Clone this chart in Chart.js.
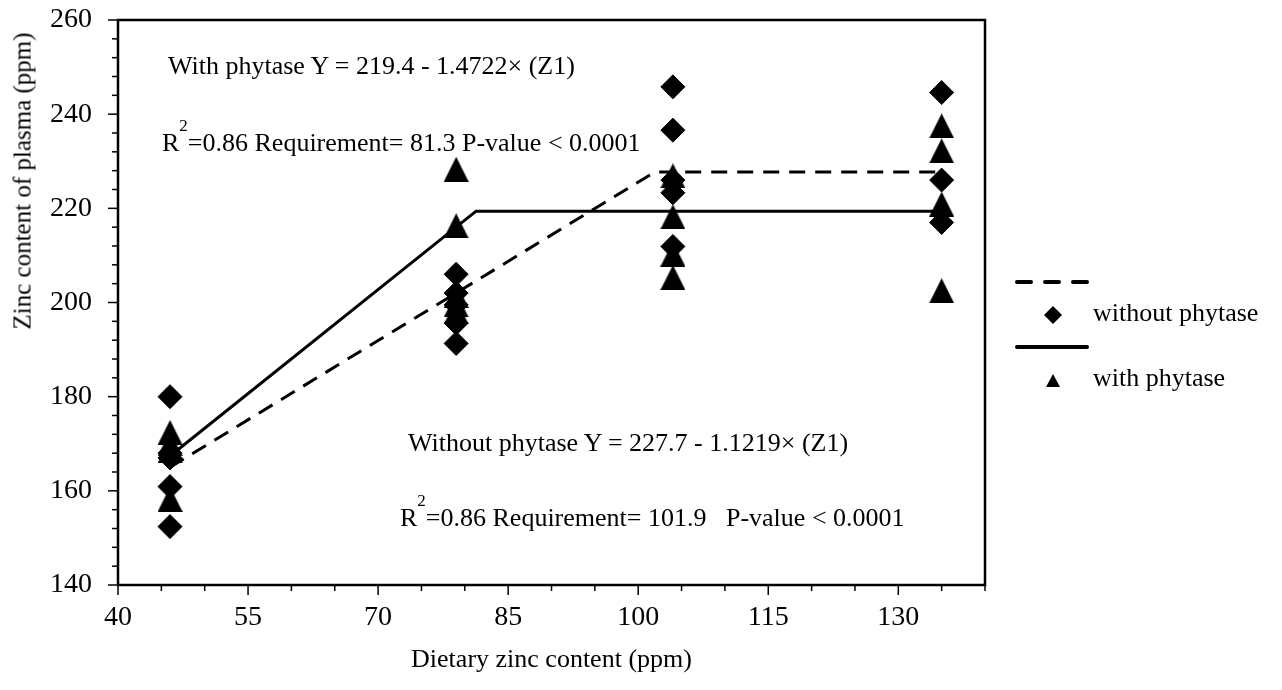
<!DOCTYPE html>
<html>
<head>
<meta charset="utf-8">
<script src="https://cdn.jsdelivr.net/npm/chart.js@4.4.1/dist/chart.umd.min.js"></script>
<style>
    html, body { margin: 0; padding: 0; background: #fff; }
    #wrap { position: relative; width: 1282px; height: 690px; font-family: "Liberation Serif", "Times New Roman", serif; color: #000; }
    #graph { position: absolute; left: 0; top: 0; }
    .note { position: absolute; font-size: 26px; line-height: 26px; white-space: pre; }
    .sup { font-size: 17px; position: relative; top: -20px; }
    #ytitle { position: absolute; left: 22px; top: 181px; font-size: 25px; line-height: 25px; white-space: nowrap;
              transform: translate(-50%, -50%) rotate(-90deg); }
    .leg { position: absolute; }
</style>
</head>
<body>
<div id="wrap">
    <canvas id="graph" width="1282" height="690"></canvas>

    <div id="ytitle">Zinc content of plasma (ppm)</div>

    <div class="note" style="left:168px; top:53px;">With phytase Y = 219.4 - 1.4722× (Z1)</div>
    <div class="note" style="left:162px; top:130px;">R<span class="sup">2</span>=0.86 Requirement= 81.3 P-value &lt; 0.0001</div>
    <div class="note" style="left:408px; top:430px;">Without phytase Y = 227.7 - 1.1219× (Z1)</div>
    <div class="note" style="left:400px; top:505px;">R<span class="sup">2</span>=0.86 Requirement= 101.9   P-value &lt; 0.0001</div>

    <!-- légende -->
    <svg class="leg" style="left:1015px; top:275px;" width="76" height="14">
        <line x1="2" y1="7" x2="72" y2="7" stroke="#000" stroke-width="4" stroke-dasharray="14 14" stroke-linecap="round"/>
    </svg>
    <svg class="leg" style="left:1043px; top:305px;" width="20" height="20">
        <polygon points="10,1 19,10 10,19 1,10" fill="#000"/>
    </svg>
    <div class="note" style="left:1093px; top:300px;">without phytase</div>
    <svg class="leg" style="left:1015px; top:340px;" width="76" height="14">
        <line x1="2" y1="7" x2="72" y2="7" stroke="#000" stroke-width="4" stroke-linecap="round"/>
    </svg>
    <svg class="leg" style="left:1045px; top:373px;" width="16" height="16">
        <polygon points="8,1 15,14 1,14" fill="#000"/>
    </svg>
    <div class="note" style="left:1093px; top:365px;">with phytase</div>
</div>

<script>
// Niveaux de zinc alimentaire (ppm)
var zincLevels = [46, 79, 104, 135];

// Valeurs, une liste par niveau
var withoutPhytase = [
    [180, 168, 167, 160.9, 152.4],
    [206, 202, 199.5, 195.6, 191.3],
    [245.8, 236.6, 226, 223.3, 211.9],
    [244.6, 226, 217]
];
var withPhytase = [
    [172.4, 170, 168.5, 158.2],
    [228.3, 216.3, 201.5, 199.5, 198],
    [226.9, 218.2, 210.3, 205.3],
    [237.5, 232.2, 220.9, 202.5]
];

// Droites brisées (broken-line)
var withLineX = [46, 81.3, 135];
var withLineY = [167.4, 219.4, 219.4];
var withoutLineX = [46, 101.9, 135];
var withoutLineY = [165.0, 227.7, 227.7];

// Axes
var xMin = 40, xMax = 140, xStep = 5, xLabelStep = 15;
var yMin = 140, yMax = 260, yStep = 4, yLabelStep = 20;

function groupPoints(levels, groups) {
    var pts = [];
    for (var i = 0; i < levels.length; i++) {
        for (var j = 0; j < groups[i].length; j++) {
            pts.push({ x: levels[i], y: groups[i][j] });
        }
    }
    return pts;
}

function linePoints(xs, ys) {
    var pts = [];
    for (var i = 0; i < xs.length; i++) {
        pts.push({ x: xs[i], y: ys[i] });
    }
    return pts;
}

// triangle plein 25x25 comme dans la figure
function makeTriangle(w, h) {
    var c = document.createElement('canvas');
    c.width = w;
    c.height = h;
    var g = c.getContext('2d');
    g.fillStyle = '#000';
    g.beginPath();
    g.moveTo(w / 2, 0);
    g.lineTo(w, h);
    g.lineTo(0, h);
    g.closePath();
    g.fill();
    return c;
}

// Cadre et graduations (majeures / mineures)
var frameTicks = {
    id: 'frameTicks',
    afterDraw: function(chart) {
        var ctx = chart.ctx;
        var a = chart.chartArea;
        var sx = chart.scales.x;
        var sy = chart.scales.y;
        ctx.save();
        ctx.strokeStyle = '#000';
        ctx.lineWidth = 1.5;
        sx.ticks.forEach(function(t) {
            var px = sx.getPixelForValue(t.value);
            var len = t.label !== '' ? 10 : 6;
            ctx.beginPath();
            ctx.moveTo(px, a.bottom);
            ctx.lineTo(px, a.bottom + len);
            ctx.stroke();
        });
        sy.ticks.forEach(function(t) {
            var py = sy.getPixelForValue(t.value);
            var len = t.label !== '' ? 10 : 6;
            ctx.beginPath();
            ctx.moveTo(a.left, py);
            ctx.lineTo(a.left - len, py);
            ctx.stroke();
        });
        ctx.lineWidth = 2.5;
        ctx.strokeRect(a.left, a.top, a.right - a.left, a.bottom - a.top);
        ctx.restore();
    }
};

document.addEventListener('DOMContentLoaded', function() {
    var ctx = document.getElementById('graph').getContext('2d');
    var fontFam = '"Liberation Serif", "Times New Roman", serif';

    window.myChart = new Chart(ctx, {
        type: 'scatter',
        data: {
            datasets: [{
                label: 'without phytase',
                data: groupPoints(zincLevels, withoutPhytase),
                pointStyle: 'rectRot',
                pointRadius: 12,
                backgroundColor: '#000',
                borderColor: '#000',
                borderWidth: 1
            }, {
                label: 'with phytase',
                data: groupPoints(zincLevels, withPhytase),
                pointStyle: makeTriangle(25, 25),
                pointRadius: 12,
                backgroundColor: '#000',
                borderColor: '#000'
            }, {
                label: 'without phytase fit',
                data: linePoints(withoutLineX, withoutLineY),
                showLine: true,
                pointRadius: 0,
                borderColor: '#000',
                borderWidth: 3,
                borderDash: [16, 10],
                fill: false
            }, {
                label: 'with phytase fit',
                data: linePoints(withLineX, withLineY),
                showLine: true,
                pointRadius: 0,
                borderColor: '#000',
                borderWidth: 3,
                fill: false
            }]
        },
        options: {
            responsive: false,
            animation: false,
            events: [],
            layout: {
                padding: { top: 20, right: 297, bottom: 0, left: 0 }
            },
            plugins: {
                legend: { display: false },
                tooltip: { enabled: false }
            },
            scales: {
                x: {
                    type: 'linear',
                    min: xMin,
                    max: xMax,
                    afterFit: function(scale) { scale.height = 105; },
                    border: { display: false },
                    grid: { display: true, drawOnChartArea: false, drawTicks: true, tickLength: 10, tickColor: 'rgba(0,0,0,0)' },
                    ticks: {
                        stepSize: xStep,
                        autoSkip: false,
                        maxRotation: 0,
                        padding: 6,
                        color: '#000',
                        font: { family: fontFam, size: 28 },
                        callback: function(v) {
                            return ((v - xMin) % xLabelStep === 0 && v <= 130) ? String(v) : '';
                        }
                    },
                    title: {
                        display: true,
                        text: 'Dietary zinc content (ppm)',
                        color: '#000',
                        font: { family: fontFam, size: 26 },
                        padding: { top: 0, bottom: 14 }
                    }
                },
                y: {
                    type: 'linear',
                    min: yMin,
                    max: yMax,
                    afterFit: function(scale) { scale.width = 118; },
                    border: { display: false },
                    // la longueur sert d'espace entre les étiquettes et l'axe
                    grid: { display: true, drawOnChartArea: false, drawTicks: true, tickLength: 26, tickColor: 'rgba(0,0,0,0)' },
                    ticks: {
                        stepSize: yStep,
                        autoSkip: false,
                        padding: 0,
                        color: '#000',
                        font: { family: fontFam, size: 28 },
                        callback: function(v) {
                            return (v - yMin) % yLabelStep === 0 ? String(v) : '';
                        }
                    }
                }
            }
        },
        plugins: [frameTicks]
    });
});
</script>
</body>
</html>
